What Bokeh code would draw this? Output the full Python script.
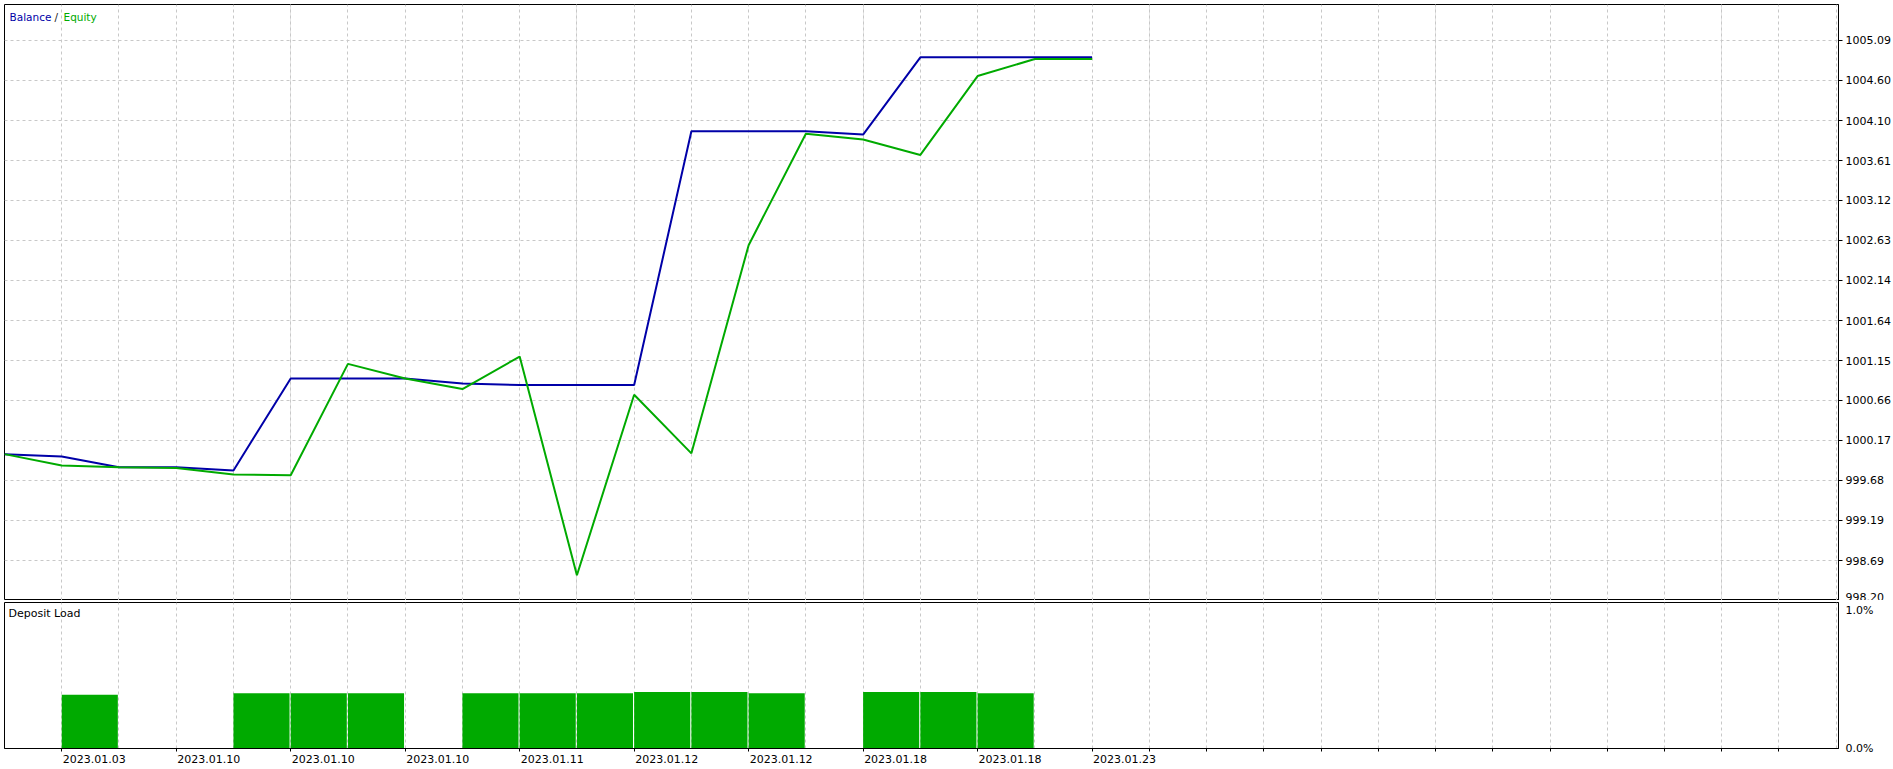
from bokeh.plotting import figure
from bokeh.layouts import column
from bokeh.models import (Range1d, FixedTicker, NumeralTickFormatter, PrintfTickFormatter,
                          Grid, Label, LinearAxis)
from bokeh.embed import file_html
from bokeh.resources import INLINE

# ---------------- data ----------------
deal_index = list(range(20))
balance = [1000.00, 999.97, 999.84, 999.84, 999.80, 1000.93, 1000.93, 1000.93, 1000.87, 1000.85,
           1000.85, 1000.85, 1003.97, 1003.97, 1003.97, 1003.93, 1004.88, 1004.88, 1004.88, 1004.88]
equity = [1000.00, 999.86, 999.84, 999.83, 999.75, 999.74, 1001.11, 1000.93, 1000.80, 1001.20,
          998.51, 1000.73, 1000.01, 1002.57, 1003.94, 1003.87, 1003.68, 1004.65, 1004.86, 1004.86]

load_index = [1, 4, 5, 6, 8, 9, 10, 11, 12, 13, 15, 16, 17]
load_pct = [0.39, 0.40, 0.40, 0.40, 0.40, 0.40, 0.40, 0.41, 0.41, 0.40, 0.41, 0.41, 0.40]

date_tick_index = [1, 3, 5, 7, 9, 11, 13, 15, 17, 19]
date_labels = ["2023.01.03", "2023.01.10", "2023.01.10", "2023.01.10", "2023.01.11",
               "2023.01.12", "2023.01.12", "2023.01.18", "2023.01.18", "2023.01.23"]
extra_tick_index = list(range(20, 32))

y_ticks = [998.20, 998.69, 999.19, 999.68, 1000.17, 1000.66, 1001.15, 1001.64, 1002.14,
           1002.63, 1003.12, 1003.61, 1004.10, 1004.60, 1005.09]
load_ticks = [0.0, 1.0]

y_min, y_max = 998.20, 1005.53
x_max = 32.04
load_max = 1.058
label_shift = 0.568   # date labels start just right of their tick (MT5 style)

BLUE = "#0000A8"
GREEN = "#00AA00"
GRID = "#C8C8C8"
FONT = "DejaVu Sans"

# ---------------- main panel ----------------
p1 = figure(frame_width=1834, frame_height=596,
            x_range=Range1d(0, x_max), y_range=Range1d(y_min, y_max),
            output_backend="svg", toolbar_location=None,
            x_axis_location=None, y_axis_location="right",
            min_border_left=4, min_border_top=4, min_border_bottom=0, min_border_right=0,
            outline_line_color="black", outline_line_width=1,
            background_fill_color="white", border_fill_color="white")

ya = p1.yaxis[0]
ya.ticker = FixedTicker(ticks=y_ticks)
ya.formatter = NumeralTickFormatter(format="0.00")
ya.major_tick_out = 4
ya.major_tick_in = 0
ya.minor_tick_line_color = None
ya.major_label_standoff = 3
ya.major_label_text_font = FONT
ya.major_label_text_font_size = "11px"
ya.major_label_text_color = "black"
ya.axis_line_color = "black"
ya.major_tick_line_color = "black"

p1.ygrid.grid_line_color = GRID
p1.ygrid.grid_line_dash = "3 3"
p1.add_layout(Grid(dimension=0, ticker=FixedTicker(ticks=list(range(0, 33))),
                   grid_line_color=GRID, grid_line_dash="3 3"))

p1.line(deal_index, balance, line_color=BLUE, line_width=2)
p1.line(deal_index, equity, line_color=GREEN, line_width=2)

p1.add_layout(Label(x=0, y=y_max, x_offset=5, y_offset=-12, text="Balance",
                    text_color=BLUE, text_font=FONT, text_font_size="10.5px",
                    text_baseline="alphabetic"))
p1.add_layout(Label(x=0, y=y_max, x_offset=50, y_offset=-12, text="/",
                    text_color="#202020", text_font=FONT, text_font_size="10.5px",
                    text_baseline="alphabetic"))
p1.add_layout(Label(x=0, y=y_max, x_offset=59, y_offset=-12, text="Equity",
                    text_color=GREEN, text_font=FONT, text_font_size="10.5px",
                    text_baseline="alphabetic"))

# ---------------- deposit load panel ----------------
p2 = figure(frame_width=1834, frame_height=146,
            x_range=p1.x_range, y_range=Range1d(0, load_max),
            output_backend="svg", toolbar_location=None,
            y_axis_location="right",
            min_border_left=4, min_border_top=2, min_border_bottom=21, min_border_right=0,
            outline_line_color="black", outline_line_width=1,
            background_fill_color="white", border_fill_color="white")
p2.extra_x_ranges = {"labels": Range1d(-label_shift, x_max - label_shift)}

p2.vbar(x=[i + 0.49 for i in load_index], width=0.98, bottom=0, top=load_pct,
        fill_color=GREEN, line_color=None)

# tick marks (no labels)
xa = p2.xaxis[0]
all_ticks = sorted(set(date_tick_index + extra_tick_index))
xa.ticker = FixedTicker(ticks=all_ticks)
xa.major_label_overrides = {i: "" for i in all_ticks}
xa.major_tick_out = 3
xa.major_tick_in = 0
xa.minor_tick_line_color = None
xa.major_label_standoff = 0
xa.major_label_text_font_size = "1px"
xa.axis_line_color = "black"
xa.major_tick_line_color = "black"

# date labels (start at their tick)
xl = LinearAxis(x_range_name="labels", ticker=FixedTicker(ticks=date_tick_index),
                major_label_overrides=dict(zip(date_tick_index, date_labels)),
                major_tick_out=0, major_tick_in=0, major_tick_line_color=None,
                minor_tick_line_color=None, axis_line_color=None,
                major_label_standoff=3, major_label_text_font=FONT,
                major_label_text_font_size="11px", major_label_text_color="black")
p2.add_layout(xl, "below")

ya2 = p2.yaxis[0]
ya2.ticker = FixedTicker(ticks=load_ticks)
ya2.formatter = PrintfTickFormatter(format="%.1f%%")
ya2.major_tick_out = 0
ya2.major_tick_in = 0
ya2.major_tick_line_color = None
ya2.minor_tick_line_color = None
ya2.major_label_standoff = 7
ya2.major_label_text_font = FONT
ya2.major_label_text_font_size = "11px"
ya2.major_label_text_color = "black"
ya2.axis_line_color = "black"

p2.ygrid.visible = False
p2.xgrid.ticker = FixedTicker(ticks=list(range(0, 33)))
p2.xgrid.grid_line_color = GRID
p2.xgrid.grid_line_dash = "3 3"

p2.add_layout(Label(x=0, y=load_max, x_offset=4, y_offset=-11, text="Deposit Load",
                    text_color="black", text_font=FONT, text_font_size="11px",
                    text_baseline="alphabetic"))

layout = column(p1, p2, spacing=0)

open("out.html", "w").write(file_html(layout, INLINE))
